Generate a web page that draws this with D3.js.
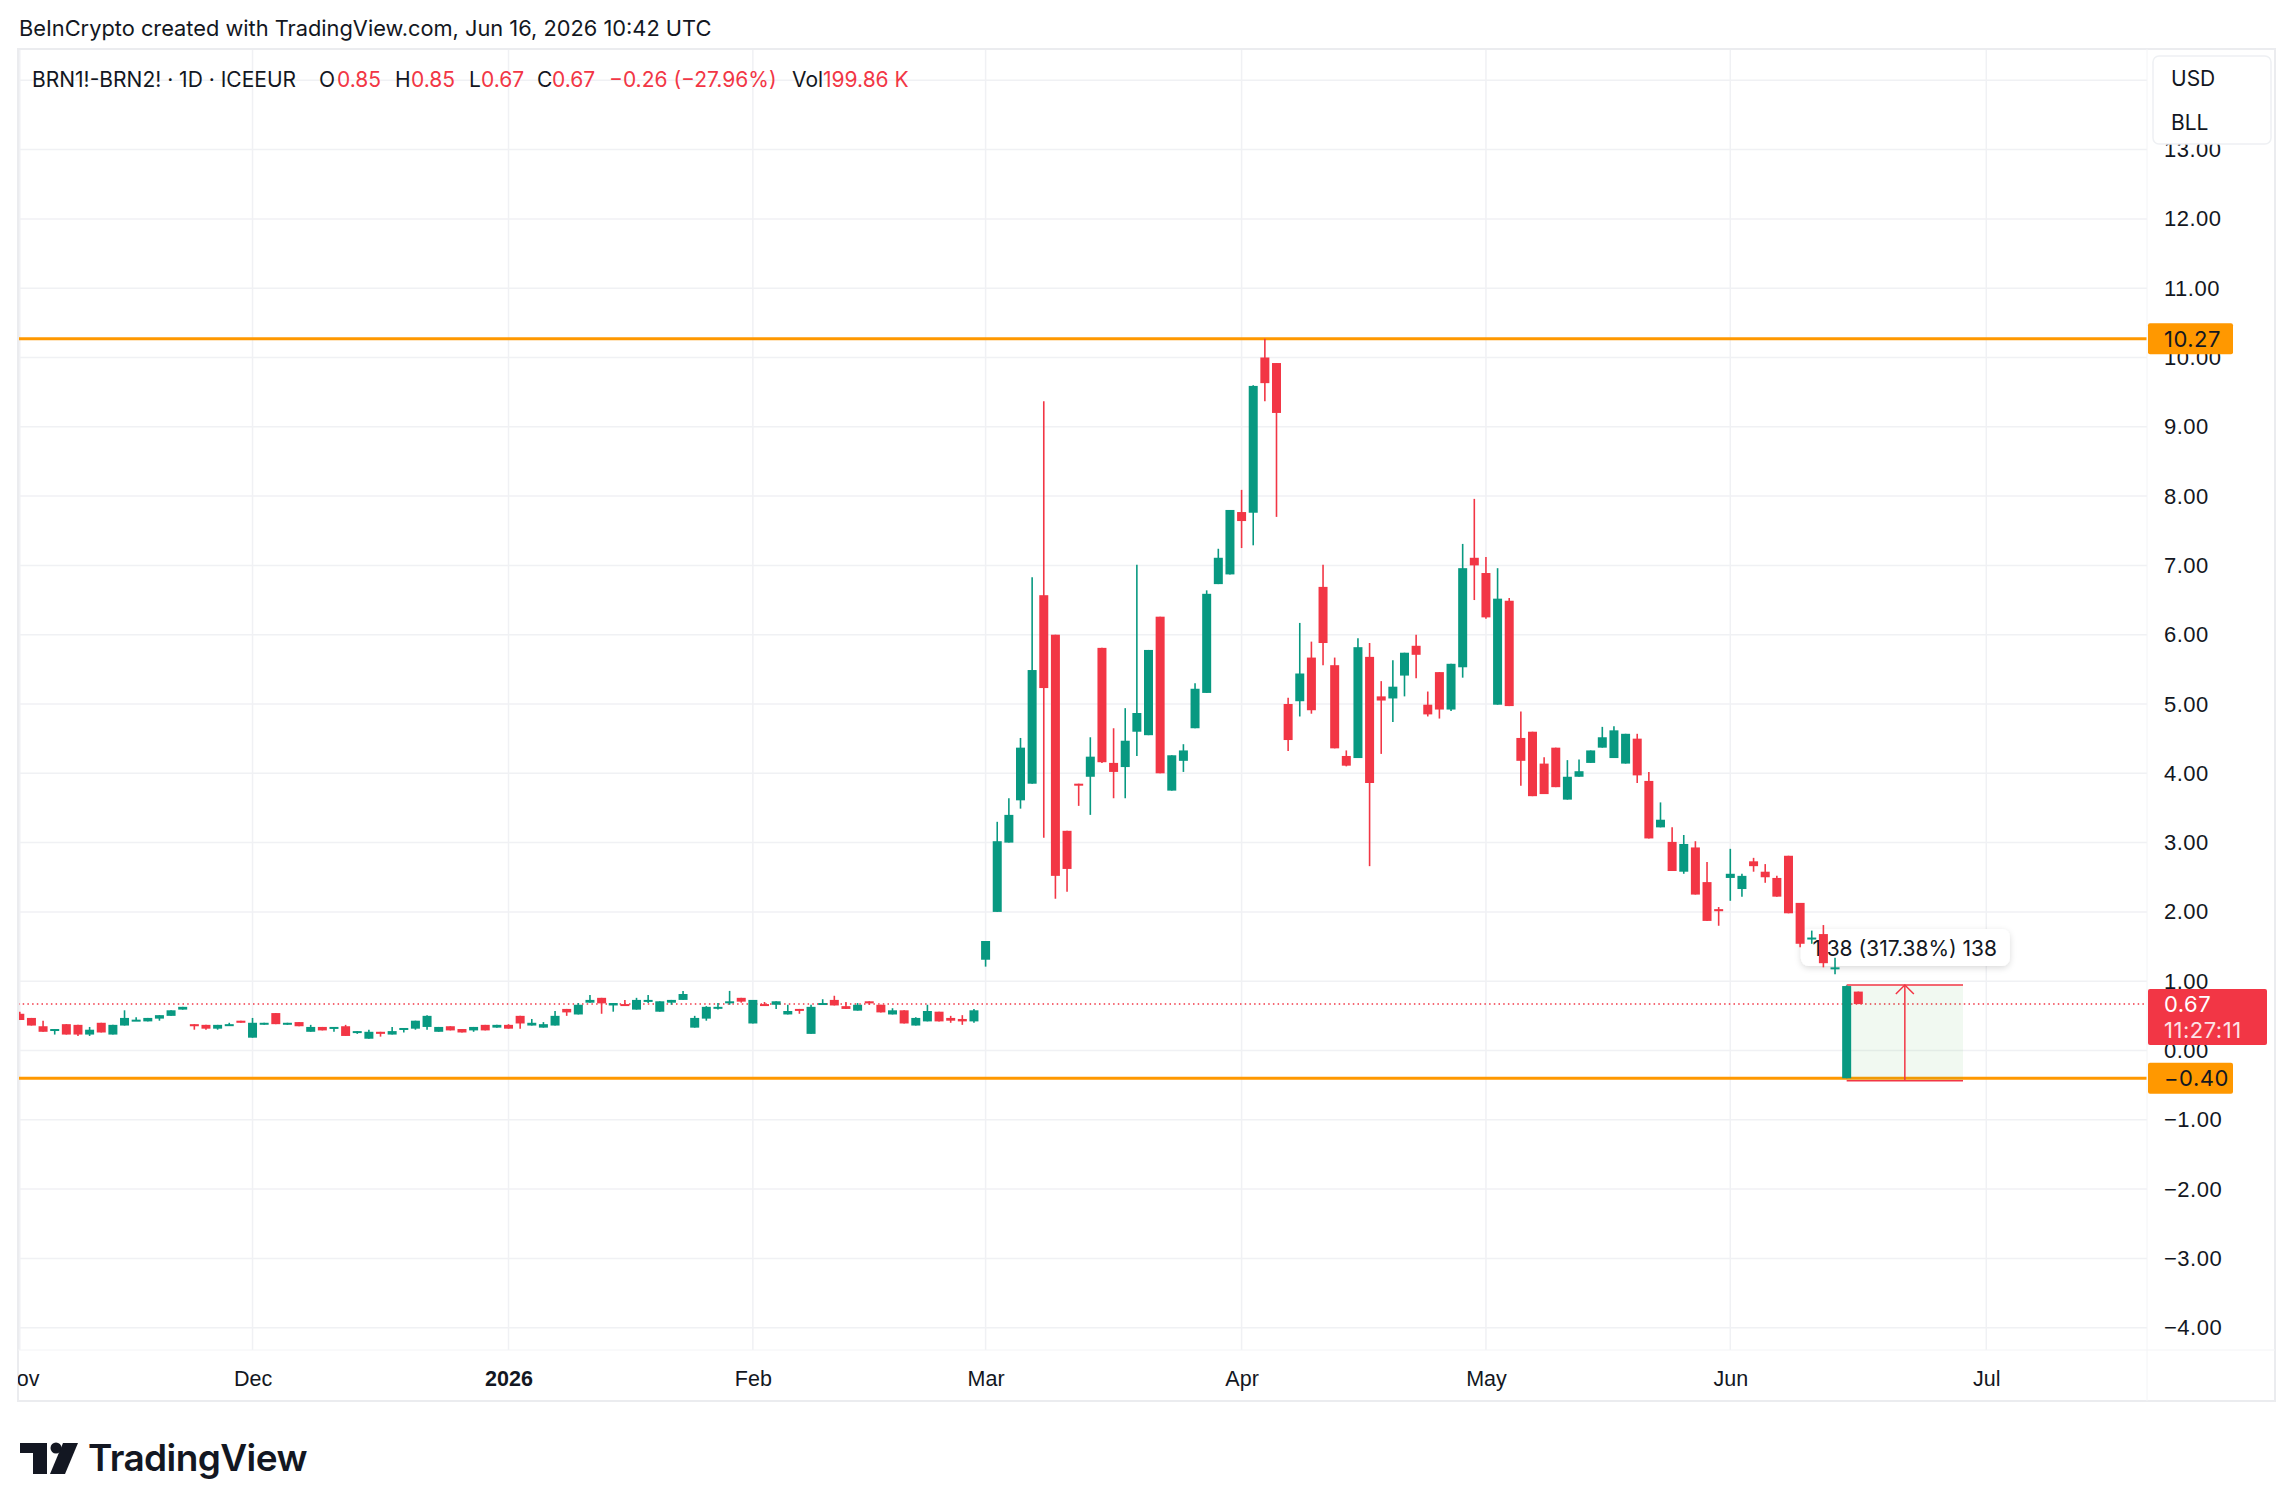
<!DOCTYPE html>
<html lang="en">
<head>
<meta charset="utf-8">
<title>BRN1!-BRN2! spread</title>
<style>
  html, body { margin: 0; padding: 0; background: #fff; }
  svg { display: block; font-family: Inter, "Noto Sans", sans-serif; }
</style>
</head>
<body>
<svg width="2294" height="1509"></svg>
<script src="https://d3js.org/d3.v7.min.js"></script>
<script>
// daily OHLC, first bar 2025-11-03, last bar 2026-06-16
var opens = [.53,.47,.35,.29,.38,.37,.23,.40,.23,.36, .43,.42,.46,.50,.59,.38,.37,.315,.37,.43,
  .185,.38,.54,.38,.41,.27,.34,.315,.35,.26, .17,.27,.23,.31,.315,.34,.27,.35,.31,.29,
  .37,.33,.37,.50,.36,.33,.36,.60,.52,.69, .76,.65,.67,.59,.72,.56,.69,.73,.33,.46,
  .61,.70,.76,.39,.67,.66,.52,.60,.24,.67, .73,.64,.575,.71,.66,.52,.58,.36,.42,.56,
  .47,.455,.42, 1.31,2.00,3.00,3.61,3.85,6.57,6.00,
  3.17,3.85,3.95,5.81,4.15,4.09,4.60,4.55,6.26,3.75, 4.18,4.65,5.16,6.73,6.87,7.77,7.76,10.00,9.92,5.00,
  5.04,5.67,6.69,5.56,4.25,4.22,5.68,5.11,5.08,5.41, 5.84,4.99,5.46,4.92,5.53,7.11,6.89,4.99,6.49,4.51,
  4.60,4.14,4.37,3.62,3.95,4.15,4.37,4.22,4.14,4.50, 3.89,3.22,3.01,2.58,2.93,2.43,2.04,2.49,2.33,2.73,
  2.58,2.49,2.81,2.13,1.61,1.68,1.18,-0.40,0.85];
var highs = [.56,.47,.43,.31,.38,.37,.34,.40,.37,.58, .48,.47,.51,.58,.63,.38,.37,.37,.40,.43,
  .47,.40,.54,.40,.41,.37,.34,.34,.37,.28, .30,.27,.34,.325,.43,.51,.34,.35,.31,.34,
  .37,.37,.38,.50,.455,.41,.57,.60,.685,.80, .76,.685,.73,.76,.80,.71,.73,.86,.50,.64,
  .685,.86,.76,.73,.70,.71,.66,.60,.66,.74, .79,.70,.685,.71,.66,.61,.58,.48,.66,.56,
  .50,.51,.60, 1.58,3.30,3.64,4.51,6.83,9.37,6.00,
  3.17,3.85,4.52,5.81,4.65,4.94,7.01,5.78,6.26,4.26, 4.42,5.30,6.64,7.24,7.80,8.09,9.60,10.27,9.92,5.09,
  6.17,5.90,7.01,5.67,4.33,5.95,5.88,5.33,5.63,5.74, 6.00,5.18,5.46,5.58,7.31,7.96,7.12,6.96,6.53,4.89,
  4.60,4.23,4.37,4.19,4.20,4.33,4.67,4.68,4.57,4.57, 4.02,3.58,3.22,3.11,3.02,2.72,2.07,2.91,2.55,2.78,
  2.69,2.52,2.81,2.13,1.73,1.81,1.34,0.94,0.85];
var lows = [.44,.36,.27,.23,.23,.21,.21,.26,.23,.36, .43,.42,.43,.50,.59,.30,.30,.30,.36,.40,
  .185,.37,.38,.37,.35,.27,.29,.27,.21,.24, .17,.20,.23,.26,.30,.30,.27,.29,.26,.27,
  .29,.33,.315,.315,.36,.33,.36,.50,.52,.69, .53,.56,.66,.59,.685,.56,.66,.73,.33,.43,
  .59,.66,.69,.39,.65,.60,.52,.53,.24,.67, .65,.60,.575,.66,.55,.52,.39,.36,.42,.42,
  .40,.37,.40, 1.21,2.00,3.00,3.49,3.85,3.07,2.19,
  2.29,3.53,3.40,4.15,3.64,3.64,4.25,4.55,4.00,3.75, 4.02,4.65,5.16,6.73,6.87,7.25,7.29,9.37,7.70,4.32,
  4.82,4.86,5.56,4.36,4.10,4.22,2.66,4.28,4.74,5.11, 5.37,4.82,4.79,4.90,5.38,6.50,6.23,4.99,4.97,3.82,
  3.67,3.70,3.80,3.62,3.95,4.15,4.37,4.22,4.14,3.86, 3.06,3.22,2.59,2.55,2.25,1.87,1.80,2.16,2.22,2.58,
  2.42,2.22,1.98,1.49,1.54,1.20,1.10,-0.40,0.67];
var closes = [.44,.36,.27,.31,.23,.23,.30,.26,.37,.47, .445,.47,.51,.58,.63,.35,.315,.37,.38,.40,
  .40,.40,.38,.40,.35,.34,.29,.34,.21,.28, .27,.24,.28,.325,.43,.50,.34,.29,.26,.34,
  .29,.37,.315,.39,.40,.38,.50,.55,.66,.73, .68,.685,.66,.73,.73,.71,.73,.815,.47,.63,
  .63,.71,.705,.73,.65,.71,.57,.59,.63,.685, .65,.60,.66,.68,.55,.58,.39,.47,.57,.42,
  .43,.42,.58, 1.58,3.02,3.40,4.37,5.49,5.23,2.52,
  2.62,3.83,4.24,4.16,4.02,4.47,4.87,5.78,4.00,4.26, 4.33,5.22,6.59,7.11,7.80,7.64,9.59,9.63,9.20,4.48,
  5.44,4.91,5.88,4.36,4.11,5.82,3.86,5.05,5.25,5.74, 5.71,4.85,4.92,5.58,6.96,7.00,6.25,6.52,4.97,4.18,
  3.67,3.70,3.80,3.95,4.03,4.33,4.52,4.62,4.57,3.97, 3.06,3.33,2.59,2.98,2.25,1.87,2.01,2.55,2.52,2.66,
  2.50,2.22,1.98,1.54,1.63,1.26,1.20,0.93,0.67];

// exchange closed on these weekdays
var holidays = ["2025-12-25", "2026-01-01", "2026-04-03"];
var monthLabels = ["Nov", "Dec", "2026", "Feb", "Mar", "Apr", "May", "Jun", "Jul"];
var monthStarts = ["2025-11-03", "2025-12-01", "2026-01-02", "2026-02-02", "2026-03-02",
                   "2026-04-01", "2026-05-01", "2026-06-01", "2026-07-01"];
var priceTicks = d3.range(-4, 14);
var levels = [10.27, -0.40];          // horizontal lines
var range = {from: 157, to: 167, low: -0.435, high: 0.945, label: "1.38 (317.38%) 138"};
var volume = "199.86 K";

var fmtDay = d3.utcFormat("%Y-%m-%d");
var days = d3.utcDay.range(new Date(Date.UTC(2025, 10, 3)), new Date(Date.UTC(2026, 7, 1)))
  .filter(function(d) { return d.getUTCDay() % 6 !== 0 && holidays.indexOf(fmtDay(d)) < 0; })
  .map(fmtDay);

var data = opens.map(function(o, i) {
  return {i: i, date: days[i], o: o, h: highs[i], l: lows[i], c: closes[i]};
});

var svg = d3.select("svg"),
    pane = {left: 18, top: 49, right: 2147, bottom: 1350},
    green = "#089981", red = "#F23645", orange = "#FF9800", ink = "#131722";

var x = d3.scaleLinear().domain([0, data.length - 1]).range([19.8, 1858.3]);
var y = d3.scaleLinear().domain([-4, 12]).range([1327.7, 218.9]);

svg.append("rect").attr("width", 2294).attr("height", 1509).attr("fill", "#fff");

var defs = svg.append("defs");
defs.append("clipPath").attr("id", "pane").append("rect")
    .attr("x", pane.left).attr("y", pane.top)
    .attr("width", pane.right - pane.left).attr("height", pane.bottom - pane.top);
var shadow = defs.append("filter").attr("id", "shadow")
    .attr("x", "-20%").attr("y", "-50%").attr("width", "140%").attr("height", "200%");
shadow.append("feDropShadow").attr("dx", 0).attr("dy", 2).attr("stdDeviation", 3)
    .attr("flood-color", "#000").attr("flood-opacity", 0.15);

var g = svg.append("g").attr("clip-path", "url(#pane)");

// grid
var gridY = d3.range(-4, 15);
g.selectAll(".hgrid").data(gridY).enter().append("line")
    .attr("x1", pane.left).attr("x2", pane.right)
    .attr("y1", function(d) { return y(d); }).attr("y2", function(d) { return y(d); })
    .attr("stroke", "#f0f1f4").attr("stroke-width", 1.5);

var tickIdx = monthStarts.map(function(d) { return days.indexOf(d); });
g.selectAll(".vgrid").data(tickIdx).enter().append("line")
    .attr("x1", function(d) { return x(d); }).attr("x2", function(d) { return x(d); })
    .attr("y1", pane.top).attr("y2", pane.bottom)
    .attr("stroke", "#f0f1f4").attr("stroke-width", 1.5);

// frame
svg.append("rect").attr("x", pane.left).attr("y", pane.top)
    .attr("width", 2275 - pane.left).attr("height", 1401 - pane.top)
    .attr("fill", "none").attr("stroke", "#ebecef").attr("stroke-width", 2);
svg.append("line").attr("x1", pane.right).attr("x2", pane.right)
    .attr("y1", pane.top).attr("y2", 1401).attr("stroke", "#f3f4f6").attr("stroke-width", 1);
svg.append("line").attr("x1", pane.left).attr("x2", 2275)
    .attr("y1", pane.bottom).attr("y2", pane.bottom).attr("stroke", "#f3f4f6").attr("stroke-width", 1);

// horizontal levels
g.selectAll(".level").data(levels).enter().append("line")
    .attr("x1", pane.left).attr("x2", pane.right)
    .attr("y1", function(d) { return y(d); }).attr("y2", function(d) { return y(d); })
    .attr("stroke", orange).attr("stroke-width", 3);

var last = data[data.length - 1], prev = data[data.length - 2];
g.append("line")
    .attr("x1", pane.left).attr("x2", pane.right)
    .attr("y1", y(last.c)).attr("y2", y(last.c))
    .attr("stroke", red).attr("stroke-width", 1.5).attr("stroke-dasharray", "1.5,3.2");

// price range tool
g.append("rect")
    .attr("x", x(range.from)).attr("y", y(range.high))
    .attr("width", x(range.to) - x(range.from)).attr("height", y(range.low) - y(range.high))
    .attr("fill", "rgba(76,175,80,0.08)");
[range.high, range.low].forEach(function(v) {
  g.append("line").attr("x1", x(range.from)).attr("x2", x(range.to))
      .attr("y1", y(v)).attr("y2", y(v)).attr("stroke", red).attr("stroke-width", 1.5);
});
var mid = x((range.from + range.to) / 2);
g.append("line").attr("x1", mid).attr("x2", mid)
    .attr("y1", y(range.low)).attr("y2", y(range.high))
    .attr("stroke", red).attr("stroke-width", 1.5);
g.append("path")
    .attr("d", "M" + (mid - 9) + "," + (y(range.high) + 9) + "L" + mid + "," + y(range.high) +
               "L" + (mid + 9) + "," + (y(range.high) + 9))
    .attr("fill", "none").attr("stroke", red).attr("stroke-width", 1.5);

var lb = g.append("g").attr("transform", "translate(" + mid + "," + (y(range.high) - 37) + ")");
lb.append("rect").attr("x", -104).attr("y", -19).attr("width", 209).attr("height", 37)
    .attr("rx", 8).attr("fill", "#fff").attr("filter", "url(#shadow)");
lb.append("text").attr("text-anchor", "middle").attr("dy", "0.36em")
    .attr("font-size", 21).attr("fill", ink).text(range.label);

// candles
var bw = 9;
var candle = g.selectAll(".candle").data(data).enter().append("g")
    .attr("fill", function(d) { return d.c >= d.o ? green : red; })
    .attr("stroke", function(d) { return d.c >= d.o ? green : red; });
candle.append("line")
    .attr("x1", function(d) { return x(d.i); }).attr("x2", function(d) { return x(d.i); })
    .attr("y1", function(d) { return y(d.h); }).attr("y2", function(d) { return y(d.l); })
    .attr("stroke-width", 1.6);
candle.append("rect")
    .attr("stroke", "none")
    .attr("x", function(d) { return x(d.i) - bw / 2; })
    .attr("width", bw)
    .attr("y", function(d) { return y(Math.max(d.o, d.c)); })
    .attr("height", function(d) { return Math.max(2, Math.abs(y(d.o) - y(d.c))); });

// price axis
var fmt2 = d3.format(".2f");
var axisFont = {size: 22, spacing: 0.5};
var ya = svg.append("g").attr("transform", "translate(2164,0)")
    .call(d3.axisRight(y).tickValues(priceTicks).tickSize(0).tickPadding(0).tickFormat(fmt2));
ya.select(".domain").remove();
ya.selectAll("text").attr("font-size", axisFont.size).attr("letter-spacing", axisFont.spacing)
    .attr("fill", ink).attr("font-family", null);

levels.forEach(function(v) {
  svg.append("rect").attr("x", 2148).attr("y", y(v) - 15.5).attr("width", 85).attr("height", 31)
      .attr("fill", orange).attr("rx", 2);
  svg.append("text").attr("x", 2164).attr("y", y(v)).attr("dy", "0.36em")
      .attr("font-size", axisFont.size).attr("letter-spacing", axisFont.spacing)
      .attr("fill", ink).text(fmt2(v));
});
svg.append("rect").attr("x", 2148).attr("y", y(last.c) - 15).attr("width", 119).attr("height", 56)
    .attr("fill", red).attr("rx", 2);
svg.append("text").attr("x", 2164).attr("y", y(last.c)).attr("dy", "0.36em")
    .attr("font-size", axisFont.size).attr("letter-spacing", axisFont.spacing)
    .attr("fill", "#fff").text(fmt2(last.c));
svg.append("text").attr("x", 2164).attr("y", y(last.c) + 26).attr("dy", "0.36em")
    .attr("font-size", axisFont.size).attr("letter-spacing", axisFont.spacing)
    .attr("fill", "#fde3e6").text("11:27:11");

// currency / unit box
svg.append("rect").attr("x", 2153).attr("y", 56).attr("width", 118).attr("height", 88)
    .attr("rx", 6).attr("fill", "#fff").attr("stroke", "#eef0f3").attr("stroke-width", 1.5);
svg.append("text").attr("x", 2171).attr("y", 78).attr("dy", "0.36em")
    .attr("font-size", 21).attr("fill", ink).text("USD");
svg.append("text").attr("x", 2171).attr("y", 122).attr("dy", "0.36em")
    .attr("font-size", 21).attr("fill", ink).text("BLL");

// time axis
defs.append("clipPath").attr("id", "taxis").append("rect")
    .attr("x", pane.left).attr("y", pane.bottom).attr("width", pane.right - pane.left).attr("height", 50);
var xa = svg.append("g").attr("clip-path", "url(#taxis)").append("g")
    .attr("transform", "translate(0,1371)")
    .call(d3.axisBottom(x).tickValues(tickIdx).tickSize(0).tickPadding(0)
      .tickFormat(function(d, k) { return monthLabels[k]; }));
xa.select(".domain").remove();
xa.selectAll("text").attr("font-size", 21.5).attr("fill", ink).attr("font-family", null)
    .attr("font-weight", function(d, k) { return monthLabels[k] === "2026" ? 700 : 400; });

// header
svg.append("text").attr("x", 19).attr("y", 36).attr("font-size", 21.8).attr("fill", ink)
    .text("BeInCrypto created with TradingView.com, Jun 16, 2026 10:42 UTC");

var chg = last.c - prev.c;
var legend = [
  ["BRN1!-BRN2! \u00b7 1D \u00b7 ICEEUR", 32, ink],
  ["O", 319, ink], [fmt2(last.o), 337, red],
  ["H", 395, ink], [fmt2(last.h), 411, red],
  ["L", 469, ink], [fmt2(last.l), 481, red],
  ["C", 537, ink], [fmt2(last.c), 552, red],
  [d3.format("+.2f")(chg).replace("-", "\u2212") + " (" + d3.format(".2%")(chg / prev.c) + ")", 609, red],
  ["Vol", 792, ink], [volume, 823, red]
];
svg.selectAll(".legend").data(legend).enter().append("text")
    .attr("x", function(d) { return d[1]; }).attr("y", 79).attr("dy", "0.36em")
    .attr("font-size", 21).attr("fill", function(d) { return d[2]; })
    .text(function(d) { return d[0]; });

// logo
var logo = svg.append("g").attr("fill", ink);
logo.append("path").attr("d", "M20,1443H47V1474H33V1453H20Z");
logo.append("circle").attr("cx", 56).attr("cy", 1448).attr("r", 5.5);
logo.append("path").attr("d", "M63,1443H78L65,1474H50Z");
logo.append("text").attr("x", 88).attr("y", 1471).attr("font-size", 37).attr("font-weight", 600)
    .attr("letter-spacing", -0.6).text("TradingView");
</script>
</body>
</html>
